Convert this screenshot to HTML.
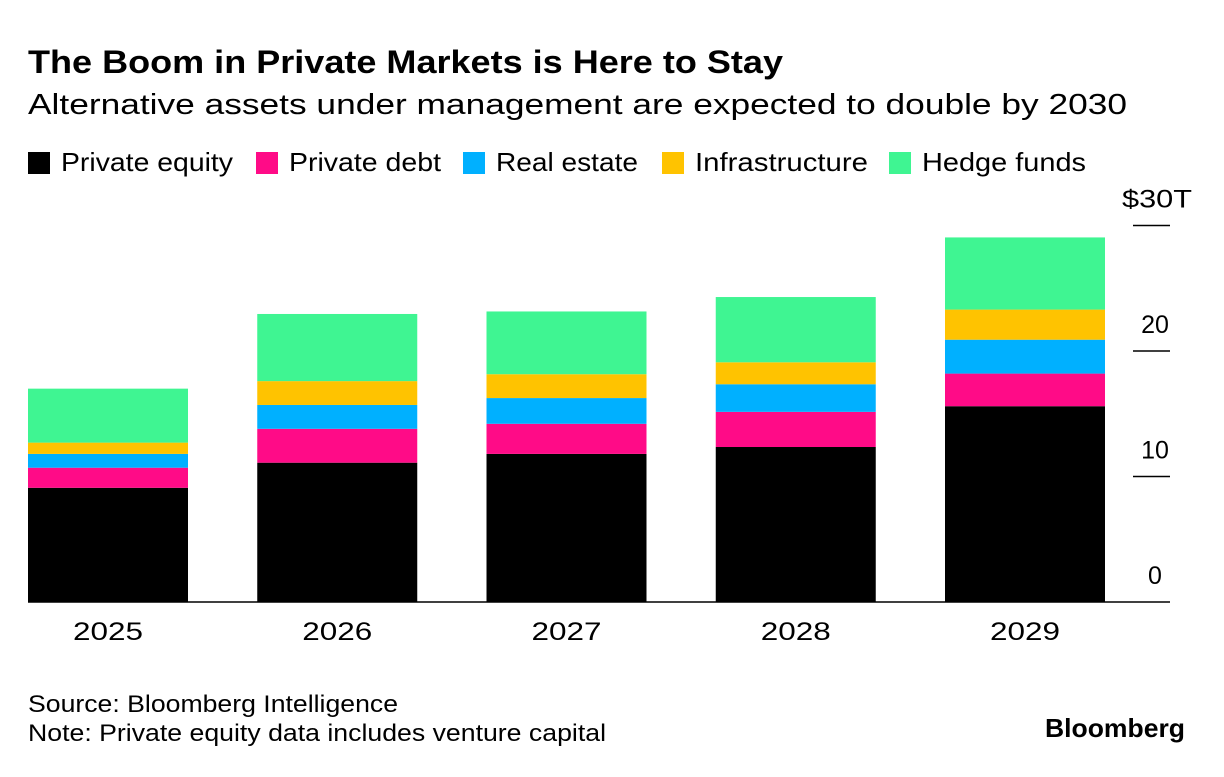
<!DOCTYPE html>
<html><head><meta charset="utf-8"><style>
body{margin:0;background:#fff;width:1224px;height:772px;overflow:hidden;font-family:"Liberation Sans",sans-serif;}
svg text{font-family:"Liberation Sans",sans-serif;}
</style></head><body>
<svg width="1224" height="772">
<text x="28" y="73" font-size="32" font-weight="bold" fill="#000" textLength="755" lengthAdjust="spacingAndGlyphs">The Boom in Private Markets is Here to Stay</text>
<text x="28" y="114" font-size="29" fill="#000" textLength="1099" lengthAdjust="spacingAndGlyphs">Alternative assets under management are expected to double by 2030</text>
<g id="legend"></g>
<g id="bars"></g>
<g id="axis"></g>
<text x="28" y="712" font-size="24" fill="#000" textLength="370" lengthAdjust="spacingAndGlyphs">Source: Bloomberg Intelligence</text>
<text x="28" y="741" font-size="24" fill="#000" textLength="578" lengthAdjust="spacingAndGlyphs">Note: Private equity data includes venture capital</text>
<text x="1045" y="737" font-size="26" font-weight="bold" fill="#000" textLength="140" lengthAdjust="spacingAndGlyphs">Bloomberg</text>
</svg>
<script>
const years=["2025","2026","2027","2028","2029"];
const seriesNames=["Private equity","Private debt","Real estate","Infrastructure","Hedge funds"];
const privateEquity=[9.1,11.1,11.8,12.35,15.6];
const privateDebt=[1.6,2.7,2.4,2.8,2.6];
const realEstate=[1.1,1.9,2.05,2.2,2.7];
const infrastructure=[0.9,1.9,1.9,1.75,2.4];
const hedgeFunds=[4.3,5.35,5.0,5.2,5.75];
const yTicks=[0,10,20,30];
const yTickLabels=["0","10","20","$30T"];
const colors=["#000000","#ff0b87","#00b0ff","#ffc300","#3ff592"];
const NS="http://www.w3.org/2000/svg";
const y0=602,pxPer=12.55;
const y=v=>y0-v*pxPer;
const x=i=>28+i*229.25;
const bw=160;
function mk(tag,attrs,parent){const e=document.createElementNS(NS,tag);for(const k in attrs)e.setAttribute(k,attrs[k]);parent.appendChild(e);return e;}
const series=[privateEquity,privateDebt,realEstate,infrastructure,hedgeFunds];
const bars=document.getElementById('bars');
years.forEach((yr,i)=>{
  let cum=0;
  series.forEach((s,j)=>{
    const r=mk('rect',{x:x(i),y:y(cum+s[i]),width:bw,height:s[i]*pxPer,fill:colors[j]},bars);
    
    
    cum+=s[i];
  });
  const t=mk('text',{x:x(i)+bw/2-35,y:640,'font-size':25,fill:'#000',textLength:70,lengthAdjust:'spacingAndGlyphs'},bars);
  t.textContent=yr;
  
  
});
const axis=document.getElementById('axis');
const base=mk('line',{x1:28,x2:1170,y1:y0,y2:y0,stroke:'#000','stroke-width':1.5},axis);


yTicks.forEach((v,k)=>{
  if(v>0){const l=mk('line',{x1:1133,x2:1170,y1:y(v),y2:y(v),stroke:'#000','stroke-width':1.5},axis);
  
  }
  const attrs={x:v===30?1157:1155,y:y(v)-18,'font-size':25,'text-anchor':'middle',fill:'#000'};
  if(v===30){attrs.textLength=70;attrs.lengthAdjust='spacingAndGlyphs';}
  const t=mk('text',attrs,axis);
  t.textContent=yTickLabels[k];
  
  
});
const legend=document.getElementById('legend');
const lx=[28,256,463,662,889];
const lw=[172,152,142,173,164];
seriesNames.forEach((n,j)=>{
  const g=mk('g',{},legend);
  
  
  mk('rect',{x:lx[j],y:152,width:22,height:22,fill:colors[j]},g);
  const t=mk('text',{x:lx[j]+33,y:171,'font-size':26,fill:'#000',textLength:lw[j],lengthAdjust:'spacingAndGlyphs'},g);
  t.textContent=n;
});
</script>
</body></html>
